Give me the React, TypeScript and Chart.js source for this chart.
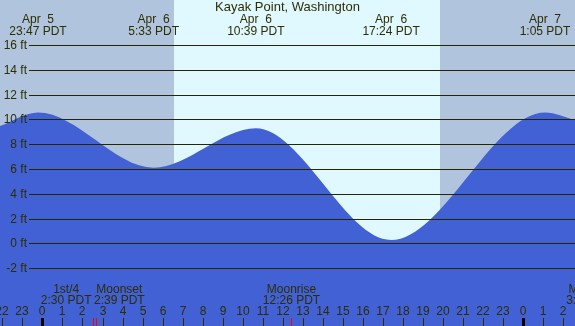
import React, { useEffect, useRef } from "react";
import { Chart, registerables } from "chart.js";

Chart.register(...registerables);

const TITLE = "Kayak Point, Washington";

// tide curve (hours from Apr 6 00:00 PDT, feet)
const tideHours = [-2.12, -0.22, 5.55, 10.65, 17.4, 25.08, 26.58];
const tideFeet = [9.5, 10.6, 6.15, 9.32, 0.32, 10.6, 10.0];

// high / low labels
const extremeHours = [-0.22, 5.55, 10.65, 17.4, 25.08];
const extremeDates = ["Apr  5", "Apr  6", "Apr  6", "Apr  6", "Apr  7"];
const extremeTimes = ["23:47 PDT", "5:33 PDT", "10:39 PDT", "17:24 PDT", "1:05 PDT"];

// axes
const yTicks = [-2, 0, 2, 4, 6, 8, 10, 12, 14, 16];
const hourTicks = [-2, -1, 0, 1, 2, 3, 4, 5, 6, 7, 8, 9, 10, 11, 12, 13, 14, 15, 16, 17, 18, 19, 20, 21, 22, 23, 24, 25, 26];
const X_MIN = -2.116;
const X_MAX = 26.577;
const Y_MIN = -6.61;
const Y_MAX = 19.66;

// sun
const sunriseHour = 6.57;
const sunsetHour = 19.84;

// moon events
const moonHours = [2.5, 2.65, 12.43, 27.4];
const moonNames = ["1st/4", "Moonset", "Moonrise", "Moonset"];
const moonTimes = ["2:30 PDT", "2:39 PDT", "12:26 PDT", "3:24 PDT"];

const NIGHT = "#b0c4de";
const DAY = "#e0f8ff";
const WATER = "#4161d4";
const INK = "#2e2e00";
const GRID = "#262600";
const FONT = "12px 'Liberation Sans', Arial, sans-serif";
const TITLE_FONT = "13px 'Liberation Sans', Arial, sans-serif";

const decorPlugin = {
  id: "decor",
  beforeDraw(chart: any) {
    const { ctx, width, height } = chart;
    const xs = chart.scales.x;
    ctx.save();
    ctx.fillStyle = NIGHT;
    ctx.fillRect(0, 0, width, height);
    const a = Math.round(xs.getPixelForValue(sunriseHour));
    const b = Math.round(xs.getPixelForValue(sunsetHour));
    ctx.fillStyle = DAY;
    ctx.fillRect(a, 0, b - a, height);
    ctx.restore();
  },
  afterDatasetsDraw(chart: any) {
    const { ctx, width, height } = chart;
    const xs = chart.scales.x;
    const ys = chart.scales.y;
    ctx.save();
    ctx.font = FONT;
    ctx.textBaseline = "middle";

    // grid lines and y labels
    yTicks.forEach((v) => {
      const py = Math.floor(ys.getPixelForValue(v)) + 0.5;
      ctx.strokeStyle = GRID;
      ctx.lineWidth = 1;
      ctx.beginPath();
      ctx.moveTo(29, py);
      ctx.lineTo(width, py);
      ctx.stroke();
      ctx.fillStyle = INK;
      ctx.textAlign = "right";
      ctx.fillText(`${v} ft`, 27, py);
    });

    // title
    ctx.textAlign = "center";
    ctx.fillStyle = INK;
    ctx.font = TITLE_FONT;
    ctx.fillText(TITLE, width / 2, 7.5);
    ctx.font = FONT;

    // extreme labels
    extremeHours.forEach((h, i) => {
      const px = xs.getPixelForValue(h);
      ctx.fillText(extremeDates[i], px, 20);
      ctx.fillText(extremeTimes[i], px, 32);
    });

    // hour ticks and labels
    hourTicks.forEach((h) => {
      const px = Math.round(xs.getPixelForValue(h));
      const lab = String(((h % 24) + 24) % 24);
      ctx.fillStyle = INK;
      ctx.textAlign = "center";
      ctx.fillText(lab, px, 312);
      if (h % 24 === 0) {
        ctx.fillStyle = "#000000";
        ctx.fillRect(px - 1, 318, 3, height - 318);
      } else {
        ctx.fillStyle = INK;
        ctx.fillRect(px, 318, 1, height - 318);
      }
    });

    // moon events
    const blocks = moonHours.map((h, i) => {
      const px = xs.getPixelForValue(h);
      const w = Math.max(ctx.measureText(moonNames[i]).width, ctx.measureText(moonTimes[i]).width);
      return { px, w, center: px };
    });
    for (let i = 1; i < blocks.length; i++) {
      const p = blocks[i - 1];
      const c = blocks[i];
      if (p.center + p.w / 2 > c.center - c.w / 2) {
        p.center = p.px - 1 - p.w / 2;
        c.center = c.px - 1.5 + c.w / 2;
      }
    }
    blocks.forEach((b, i) => {
      ctx.fillStyle = INK;
      ctx.textAlign = "center";
      ctx.fillText(moonNames[i], b.center, 290);
      ctx.fillText(moonTimes[i], b.center, 301);
      ctx.fillStyle = "#ff0000";
      ctx.fillRect(Math.round(b.px), 318, 1, height - 318);
    });

    ctx.restore();
  },
};

export default function App() {
  const ref = useRef<HTMLCanvasElement | null>(null);
  useEffect(() => {
    if (!ref.current) return;
    const chart = new Chart(ref.current, {
      type: "line",
      data: {
        datasets: [
          {
            data: tideHours.map((h, i) => ({ x: h, y: tideFeet[i] })),
            fill: "start",
            backgroundColor: WATER,
            borderWidth: 0,
            borderColor: WATER,
            pointRadius: 0,
            cubicInterpolationMode: "monotone",
          },
        ],
      },
      options: {
        animation: false,
        responsive: false,
        devicePixelRatio: 1,
        events: [],
        layout: { padding: 0 },
        scales: {
          x: { type: "linear", min: X_MIN, max: X_MAX, display: false },
          y: { type: "linear", min: Y_MIN, max: Y_MAX, display: false },
        },
        plugins: { legend: { display: false }, tooltip: { enabled: false }, title: { display: false } },
      },
      plugins: [decorPlugin],
    } as any);
    return () => chart.destroy();
  }, []);
  return (
    <div style={{ position: "absolute", left: 0, top: 0, width: 575, height: 326 }}>
      <canvas ref={ref} width={575} height={326} style={{ display: "block" }} />
    </div>
  );
}
